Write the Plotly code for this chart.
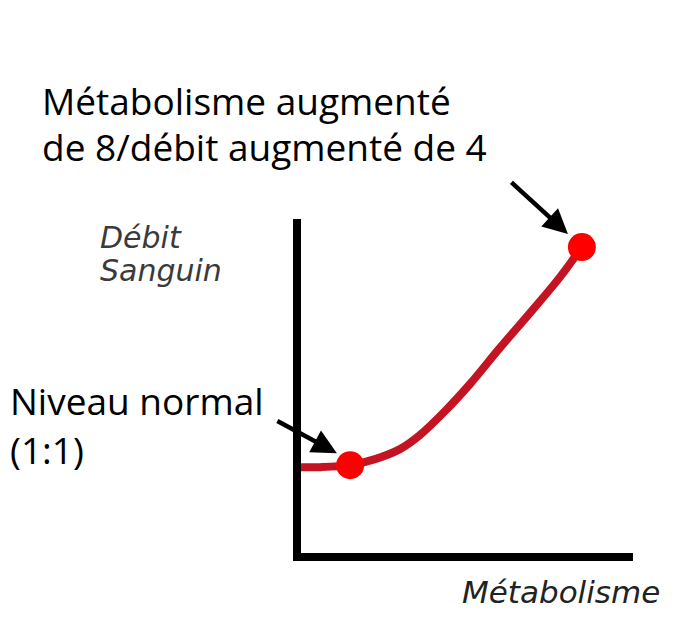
import plotly.graph_objects as go

# Schematic curve: metabolism (x) vs blood flow (y), arbitrary units
metabolisme = [0.0, 0.57, 1.48, 2.23, 2.98, 3.58, 4.34, 5.09, 5.99, 6.90, 7.80, 8.46]
debit = [2.57, 2.57, 2.63, 2.81, 3.11, 3.53, 4.25, 5.06, 6.14, 7.19, 8.26, 9.16]
points_x = [1.48, 8.46]
points_y = [2.63, 9.16]

fig = go.Figure()
fig.add_trace(go.Scatter(x=metabolisme, y=debit, mode="lines",
                         line=dict(color="#c41424", width=8, shape="spline"),
                         hoverinfo="skip", cliponaxis=False))
fig.add_trace(go.Scatter(x=points_x, y=points_y, mode="markers",
                         marker=dict(color="#ff0000", size=28),
                         hoverinfo="skip", cliponaxis=False))

# page is offset by the 8px body margin; figure sized to fit the window
OFF = 8
W, H = 684 - 2 * OFF, 618 - 2 * OFF
PL, PR, PT, PB = 301, 633, 219, 553  # plot area in page pixels
L, T = PL - OFF, PT - OFF
R = W - (PR - OFF)
B = H - (PB - OFF)

def px(x):
    return (x - PL) / (PR - PL)

def py(y):
    return (PB - y) / (PB - PT)

def label(text, x, top, family, size, color):
    return dict(x=px(x), y=py(top), xref="paper", yref="paper",
                xanchor="left", yanchor="top", align="left", showarrow=False,
                text=text, font=dict(family=family, size=size, color=color))

annotations = [
    label("Métabolisme augmenté", 40, 73, "Open Sans", 37, "#000000"),
    label("de 8/débit augmenté de 4", 40, 119, "Open Sans", 37, "#000000"),
    label("Niveau normal", 8, 373, "Open Sans", 37, "#000000"),
    label("(1:1)", 8, 422, "Open Sans", 37, "#000000"),
    label("<i>Débit</i>", 98, 218, "DejaVu Sans", 30, "#3a3a3a"),
    label("<i>Sanguin</i>", 98, 251, "DejaVu Sans", 30, "#3a3a3a"),
    label("<i>Métabolisme</i>", 460, 572, "DejaVu Sans", 31, "#222222"),
    dict(x=8.04, y=9.55, xref="x", yref="y", ax=-58, ay=-53, showarrow=True,
         arrowhead=2, arrowwidth=4.5, arrowsize=1.1, arrowcolor="#000000", text=""),
    dict(x=1.08, y=2.99, xref="x", yref="y", ax=-61, ay=-33, showarrow=True,
         arrowhead=2, arrowwidth=4.5, arrowsize=1.1, arrowcolor="#000000", text=""),
]

fig.update_layout(
    width=W, height=H,
    margin=dict(l=L, r=R, t=T, b=B),
    paper_bgcolor="white", plot_bgcolor="white",
    showlegend=False,
    annotations=annotations,
    xaxis=dict(range=[0, 10], showgrid=False, zeroline=False, showticklabels=False,
               ticks="", showline=True, linewidth=8, linecolor="black"),
    yaxis=dict(range=[0, 10], showgrid=False, zeroline=False, showticklabels=False,
               ticks="", showline=True, linewidth=8, linecolor="black"),
)

fig.write_html("out.html")
